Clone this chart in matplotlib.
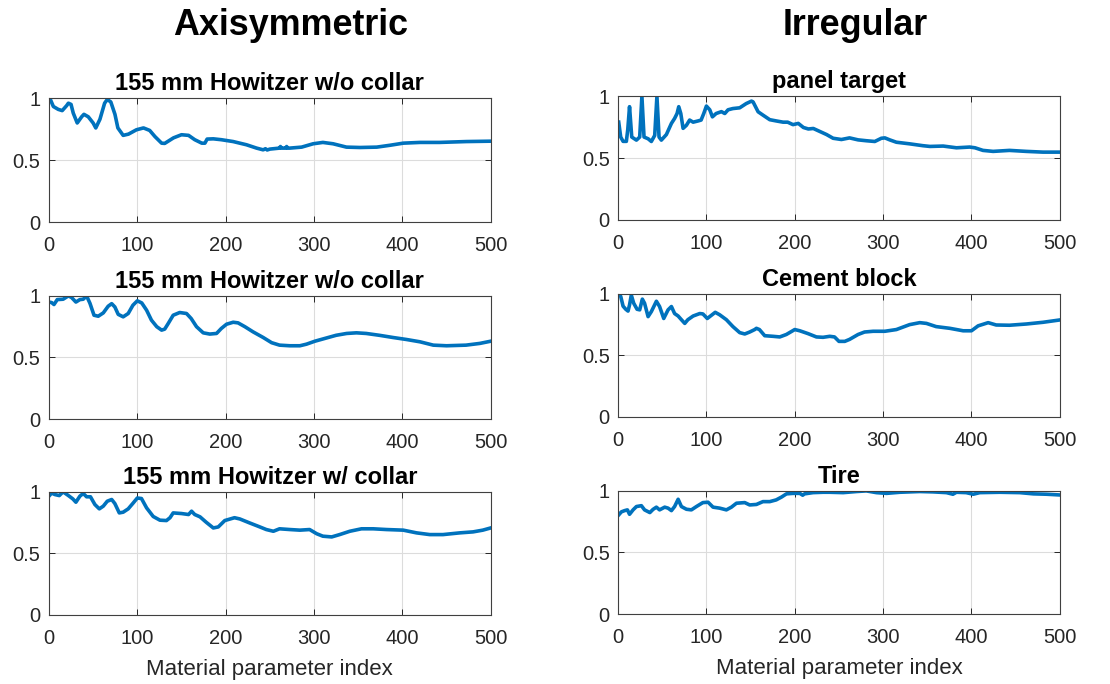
import matplotlib
matplotlib.use("Agg")
import matplotlib.pyplot as plt

plt.rcParams['font.family'] = ['Liberation Sans', 'DejaVu Sans']

# similarity curves vs. material parameter index
how1_x = [1, 5, 10.5, 15, 20, 22, 25, 27.5, 32, 37, 39.6, 44.5, 50, 53, 57.7, 63, 66, 70, 74.7, 78,
          84, 90, 99, 107, 114, 120, 127.5, 131, 141, 150, 158, 165, 173, 176.5, 179, 186, 195, 208.5,
          216, 223.6, 235, 242.5, 245, 247, 250, 261, 262, 263, 268, 269, 270, 272.6, 286, 299, 310,
          321.6, 336.7, 352, 371, 386, 401, 420, 442, 472.5, 500]
how1_y = [1.0, 0.933, 0.91, 0.90, 0.94, 0.96, 0.95, 0.88, 0.80, 0.85, 0.87, 0.85, 0.80, 0.76, 0.83,
          0.96, 0.99, 0.97, 0.87, 0.76, 0.70, 0.71, 0.745, 0.76, 0.74, 0.69, 0.637, 0.635, 0.68, 0.705,
          0.70, 0.665, 0.637, 0.637, 0.67, 0.672, 0.665, 0.65, 0.637, 0.624, 0.597, 0.583, 0.592,
          0.582, 0.589, 0.597, 0.61, 0.597, 0.597, 0.61, 0.597, 0.597, 0.605, 0.632, 0.643, 0.632,
          0.605, 0.602, 0.605, 0.62, 0.637, 0.643, 0.643, 0.65, 0.653]

how2_x = [0, 3, 5.7, 9.4, 16, 22, 25.6, 30.5, 35, 38.8, 42.6, 46.4, 51, 55.8, 61.5, 67, 71, 74.6,
          78.4, 84, 89.7, 95, 100, 105, 110.5, 116, 122, 127.5, 131, 135, 140.6, 148, 155.7, 161, 167,
          174.6, 182, 189.7, 195, 201, 208.5, 214, 221.7, 231, 242.5, 252, 261, 272.6, 284, 291.5,
          301, 312, 325, 337, 348, 359, 374, 389.5, 404.6, 420, 435, 450, 472, 487.6, 500]
how2_y = [0.95, 0.946, 0.93, 0.97, 0.973, 1.0, 0.987, 0.95, 0.97, 0.973, 1.0, 0.94, 0.843, 0.835,
          0.862, 0.916, 0.937, 0.91, 0.85, 0.83, 0.857, 0.924, 0.96, 0.943, 0.884, 0.803, 0.75, 0.722,
          0.73, 0.776, 0.843, 0.865, 0.857, 0.816, 0.75, 0.70, 0.69, 0.695, 0.735, 0.77, 0.786, 0.781,
          0.75, 0.708, 0.662, 0.62, 0.60, 0.595, 0.595, 0.608, 0.632, 0.654, 0.68, 0.695, 0.70, 0.695,
          0.68, 0.662, 0.646, 0.627, 0.60, 0.595, 0.60, 0.614, 0.632]

how3_x = [0, 3, 6.8, 11.7, 16, 22, 27, 30.5, 35, 38.8, 42.6, 47, 52, 57, 61.5, 66, 71, 74.6, 79.6,
          84, 89.7, 95.4, 100, 104.7, 110.5, 118, 125.6, 133, 137, 140.6, 150, 158, 161.4, 165, 171,
          178, 186, 191.6, 199, 210, 216, 227, 237, 246, 254, 261, 272.6, 284, 295, 303, 310, 320,
          329, 340.5, 353.7, 367, 382, 401, 416, 431, 446, 465, 480, 491, 500]
how3_y = [0.965, 0.99, 0.978, 0.97, 1.0, 0.97, 0.943, 0.916, 0.965, 0.987, 0.96, 0.96, 0.897, 0.862,
          0.884, 0.924, 0.938, 0.905, 0.829, 0.835, 0.862, 0.91, 0.95, 0.946, 0.87, 0.80, 0.77, 0.767,
          0.79, 0.829, 0.824, 0.816, 0.843, 0.816, 0.797, 0.753, 0.707, 0.715, 0.767, 0.79, 0.78,
          0.748, 0.72, 0.694, 0.68, 0.70, 0.694, 0.689, 0.694, 0.66, 0.64, 0.634, 0.653, 0.68, 0.70,
          0.70, 0.694, 0.689, 0.667, 0.653, 0.653, 0.667, 0.675, 0.689, 0.707]

panel_x = [0.75, 3, 5.7, 9.4, 11, 13, 15.5, 20.8, 24.5, 27, 29.4, 34, 37.7, 41.5, 44, 46.4, 49, 54.7,
           60.4, 64, 66.8, 68.7, 71, 73.6, 77.4, 81, 85, 90.6, 94, 97, 100, 103.8, 106.8, 111, 117,
           120.8, 124.5, 130, 137.7, 145, 151, 152.8, 158.5, 164, 171.7, 179, 186.8, 192, 198, 204,
           209.8, 215.4, 221, 226.8, 236, 243.4, 252.8, 262, 271.7, 281, 290.6, 298, 302, 307.5, 315,
           330, 345, 353, 368, 383, 398, 404, 413, 424.5, 443, 462, 481, 500]
panel_y = [0.79, 0.67, 0.635, 0.635, 0.73, 0.915, 0.67, 0.645, 0.67, 1.0, 0.67, 0.656, 0.634, 0.683,
           1.0, 0.67, 0.645, 0.69, 0.78, 0.82, 0.86, 0.915, 0.86, 0.74, 0.765, 0.807, 0.79, 0.80,
           0.807, 0.86, 0.92, 0.89, 0.833, 0.86, 0.875, 0.86, 0.89, 0.90, 0.906, 0.94, 0.96, 0.954,
           0.874, 0.847, 0.81, 0.80, 0.79, 0.79, 0.77, 0.78, 0.747, 0.735, 0.739, 0.72, 0.69, 0.66,
           0.65, 0.663, 0.647, 0.64, 0.634, 0.66, 0.663, 0.647, 0.628, 0.615, 0.60, 0.594, 0.597,
           0.583, 0.589, 0.583, 0.562, 0.554, 0.562, 0.554, 0.548, 0.548]

cement_x = [0, 3, 5.7, 8.7, 11.3, 13, 15, 17.7, 21.5, 24.5, 27.5, 30, 34, 37.7, 43.4, 47, 51.7, 56.6,
            60.4, 64, 68, 71.7, 75.5, 79, 85, 92.5, 96, 101, 105.7, 110, 115, 122.6, 130, 137.7,
            143.4, 149, 154.7, 156.6, 160, 166, 175.5, 183, 190.5, 200, 205.7, 215, 224.5, 232, 239.6,
            245, 250, 256.6, 262, 271.7, 279, 288.7, 302, 315, 330, 341.5, 349, 360, 375.5, 390.6, 400,
            407.5, 418.9, 428, 443, 462, 481, 500]
cement_y = [1.0, 0.98, 0.90, 0.875, 0.86, 0.91, 0.99, 0.924, 0.875, 0.87, 0.957, 0.924, 0.815, 0.856,
            0.94, 0.897, 0.80, 0.87, 0.897, 0.84, 0.82, 0.79, 0.76, 0.79, 0.82, 0.84, 0.837, 0.80,
            0.826, 0.85, 0.83, 0.79, 0.734, 0.685, 0.674, 0.69, 0.71, 0.72, 0.71, 0.66, 0.655, 0.65,
            0.67, 0.71, 0.70, 0.677, 0.65, 0.647, 0.655, 0.65, 0.614, 0.614, 0.63, 0.67, 0.69, 0.696,
            0.696, 0.71, 0.75, 0.766, 0.76, 0.734, 0.72, 0.70, 0.70, 0.74, 0.766, 0.747, 0.745, 0.755,
            0.769, 0.788]

tire_x = [0.75, 3.8, 7.5, 10.6, 13, 17, 20.8, 26.4, 30, 36, 39.6, 43.4, 47, 52.8, 56.6, 60.4, 64, 68,
          71.7, 77.4, 83, 88.7, 96, 101.9, 107.5, 115, 122.6, 128.3, 134, 143.4, 149, 156.6, 164,
          171.7, 179, 185, 190.6, 198, 205.7, 209, 211, 220.7, 232, 239.6, 254.7, 270, 281, 292.4,
          303.8, 319, 341.5, 356.6, 371.7, 379, 383, 394, 402, 409.4, 432, 454.7, 470, 485, 500]
tire_y = [0.805, 0.83, 0.84, 0.846, 0.81, 0.846, 0.873, 0.88, 0.846, 0.824, 0.85, 0.868, 0.846, 0.868,
          0.86, 0.84, 0.873, 0.932, 0.873, 0.851, 0.846, 0.873, 0.905, 0.908, 0.868, 0.86, 0.846,
          0.868, 0.90, 0.905, 0.886, 0.89, 0.913, 0.913, 0.927, 0.95, 0.976, 0.98, 0.98, 0.965, 0.976,
          0.986, 0.989, 0.989, 0.986, 0.995, 1.0, 0.986, 0.98, 0.989, 0.995, 0.992, 0.986, 0.973,
          0.989, 0.986, 0.973, 0.986, 0.989, 0.986, 0.976, 0.973, 0.967]

titles = ['155 mm Howitzer w/o collar', 'panel target',
          '155 mm Howitzer w/o collar', 'Cement block',
          '155 mm Howitzer w/ collar', 'Tire']
series = [(how1_x, how1_y), (panel_x, panel_y),
          (how2_x, how2_y), (cement_x, cement_y),
          (how3_x, how3_y), (tire_x, tire_y)]
xticks = [0, 100, 200, 300, 400, 500]
yticks = [0, 0.5, 1]

# axes boxes in figure fractions [left, bottom, width, height]
boxes = [[0.0441, 0.6754, 0.398, 0.181], [0.5568, 0.6784, 0.398, 0.181],
         [0.0441, 0.3874, 0.398, 0.180], [0.5568, 0.3904, 0.398, 0.180],
         [0.0441, 0.1009, 0.398, 0.180], [0.5568, 0.1023, 0.398, 0.180]]

blue = '#0072BD'
dark = '#262626'

fig = plt.figure(figsize=(11.1, 6.84), dpi=100)

for i, (box, (xs, ys), t) in enumerate(zip(boxes, series, titles)):
    ax = fig.add_axes(box)
    ax.plot(xs, ys, color=blue, lw=2.6, solid_joinstyle='round')
    ax.set_xlim(0, 500)
    ax.set_ylim(0, 1)
    ax.set_xticks(xticks)
    ax.set_yticks(yticks)
    ax.set_yticklabels(['0', '0.5', '1'])
    ax.grid(True, color='#dcdcdc', lw=0.8)
    ax.tick_params(direction='in', top=True, right=True, length=4, width=0.7,
                   colors=dark, labelsize=14.5)
    ax.tick_params(axis='x', pad=10)
    ax.tick_params(axis='y', pad=6)
    for s in ax.spines.values():
        s.set_color('#404040')
        s.set_linewidth(0.8)
    ax.set_title(t, fontsize=17, fontweight='bold', pad=6)
    if i >= 4:
        ax.set_xlabel('Material parameter index', fontsize=16, color=dark, labelpad=8)

fig.text(0.262, 0.962, 'Axisymmetric', ha='center', va='center', fontsize=25.8, fontweight='bold')
fig.text(0.770, 0.962, 'Irregular', ha='center', va='center', fontsize=25.8, fontweight='bold')

fig.savefig('out.png', dpi=100)
